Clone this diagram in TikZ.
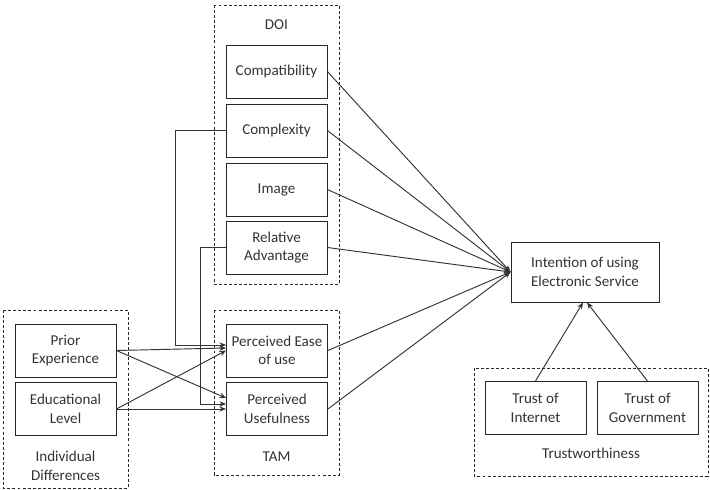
\documentclass[tikz,border=0pt]{standalone}
\usepackage{fontspec}
\setmainfont{Carlito}
\usetikzlibrary{calc,arrows.meta}
\begin{document}
\begin{tikzpicture}[x=0.75pt,y=-0.75pt,
  box/.style={draw=black!85,line width=0.65pt,minimum width=75.75pt,minimum height=39.75pt,inner sep=0pt,align=center,font=\fontsize{11.3}{13.8}\selectfont,text=black!80},
  grp/.style={draw=black!85,line width=0.65pt,dash pattern=on 2.2pt off 1.6pt},
  lbl/.style={align=center,font=\fontsize{11.3}{13.8}\selectfont,text=black!80,inner sep=0pt},
  arr/.style={draw=black!80,line width=0.7pt,-{Stealth[length=5pt,width=4pt]}},
  ln/.style={draw=black!80,line width=0.7pt}]
\useasboundingbox (0,0) rectangle (710,489);
% groups
\draw[grp] (214,5) rectangle (339,284);
\node[lbl] (doil) at (276.5,25) {DOI};
\draw[grp] (3,310) rectangle (128,488);
\node[lbl] (indl) at (65.5,466) {Individual\\Differences};
\draw[grp] (214,310) rectangle (339,475);
\node[lbl] (taml) at (276.5,457) {TAM};
\draw[grp] (474,368) rectangle (708,476);
\node[lbl] (trl) at (591,453) {Trustworthiness};
% boxes
\node[box] (comp) at (276.5,71.5) {Compatibility};
\node[box] (cplx) at (276.5,130.5) {Complexity};
\node[box] (img) at (276.5,189.5) {Image};
\node[box] (rel) at (276.5,247.5) {Relative\\Advantage};
\node[box] (pe) at (277,350.5) {Perceived Ease\\of use};
\node[box] (pu) at (277,409) {Perceived\\Usefulness};
\node[box] (prior) at (65.5,350.5) {Prior\\Experience};
\node[box] (edu) at (65.5,409) {Educational\\Level};
\node[box,minimum width=111pt,minimum height=45pt] (intent) at (585,272) {Intention of using\\Electronic Service};
\node[box] (toi) at (535.5,408) {Trust of\\Internet};
\node[box] (tog) at (647.5,408) {Trust of\\Government};
% connectors to intention
\foreach \s in {comp,cplx,img,rel,pe,pu}
  \draw[arr] (\s.east) -- (intent.west);
\draw[arr] (toi.north) -- ($(intent.south)+(-2,0)$);
\draw[arr] (tog.north) -- ($(intent.south)+(2,0)$);
% elbow connectors
\draw[arr] (cplx.west) -- ++(-50,0) |- ($(pe.west)+(0,-5.5)$);
\draw[arr] (rel.west) -- ++(-25,0) |- ($(pu.west)+(0,-5)$);
% individual differences
\draw[arr] (prior.east) -- ($(pe.west)+(0,-2.5)$);
\draw[arr] (prior.east) -- ($(pu.west)+(0,-11)$);
\draw[arr] (edu.east) -- ($(pe.west)+(0,0)$);
\draw[arr] (edu.east) -- (pu.west);
\end{tikzpicture}
\end{document}
